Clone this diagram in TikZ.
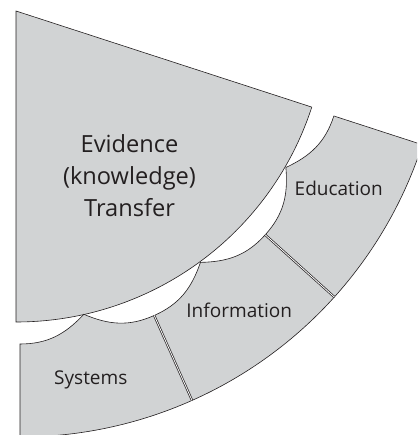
\documentclass[tikz,border=0pt]{standalone}
\usepackage{fontspec}
\setmainfont{Open Sans}
\definecolor{fangray}{RGB}{209,211,212}
\definecolor{fanline}{RGB}{35,31,32}

\begin{document}
\begin{tikzpicture}[x=1pt, y=1pt,
	piece/.style={fill=fangray, draw=fanline, line width=0.6pt},
	divider/.style={draw=fanline, line width=0.7pt, double=white, double distance=0.8pt},
	segtext/.style={font=\fontsize{19}{22}\selectfont, text=fanline, anchor=base}]
		% 画布范围
		\useasboundingbox (0, 0) rectangle (417, 435);
		\clip (0, 0) rectangle (417, 435);

		% 画大扇形
		\filldraw[piece] (16, 424) -- ++(270:311) arc (270:342:311) -- cycle;

		% 画外环的三段, 内侧是两段凹弧
		\begin{scope}[shift={(20, 421)}]
			\foreach \a in {-90, -66, -42} {
				\pgfmathsetmacro{\m}{\a + 12}
				\pgfmathsetmacro{\b}{\a + 24}
				\pgfmathsetmacro{\oa}{\a + 90}
				\pgfmathsetmacro{\ia}{\m - 55}
				\pgfmathsetmacro{\ob}{\m + 55}
				\pgfmathsetmacro{\ib}{\b - 90}
				\filldraw[piece] (\a:330) to[out=\oa, in=\ia] (\m:307)
					to[out=\ob, in=\ib] (\b:330) -- (\b:423) arc (\b:\a:423) -- cycle;
			}
			% 分隔的双线
			\draw[divider] (-66:330) -- (-66:423);
			\draw[divider] (-42:330) -- (-42:423);
		\end{scope}

		% 文字
		\node[text=fanline, align=center, font=\fontsize{23.6}{32.2}\selectfont] (transfer) at (129.5, 259.4) {Evidence\\(knowledge)\\Transfer};
		\node[segtext] (education) at (338.8, 239.3) {Education};
		\node[segtext] (information) at (239.2, 117.7) {Information};
		\node[segtext] (systems) at (90.8, 50) {Systems};
	\end{tikzpicture}
\end{document}
